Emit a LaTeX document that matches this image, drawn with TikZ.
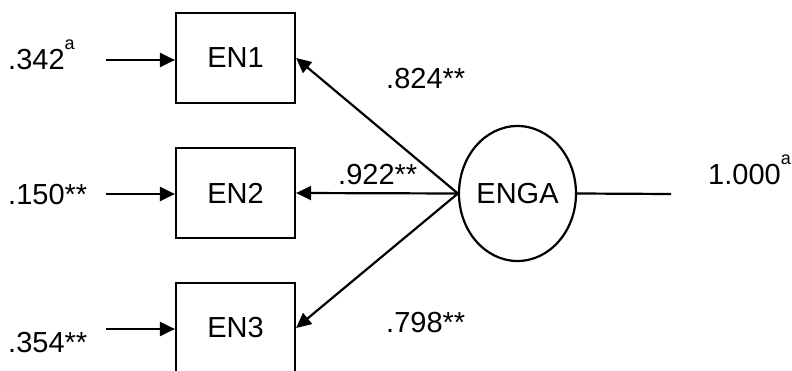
\documentclass[tikz,border=0pt]{standalone}
\usepackage{fontspec}
\setmainfont{Liberation Sans}
\usetikzlibrary{shapes.geometric,arrows.meta}
\begin{document}
\begin{tikzpicture}[x=1pt,y=-1pt,
  every node/.style={font=\fontsize{29}{31}\selectfont},
  ind/.style={draw,line width=2.2pt,minimum width=119pt,minimum height=90pt,inner sep=0pt},
  lat/.style={draw,line width=2.2pt,ellipse,minimum width=117pt,minimum height=135pt,inner sep=0pt},
  lbl/.style={anchor=base west,inner sep=0pt},
  path/.style={line width=2.2pt,-{Triangle[length=15pt,width=14pt]}}]
\useasboundingbox (0,0) rectangle (792,371);
\clip (0,0) rectangle (792,371);
% observed indicators
\node[ind] (en1) at (235.5,58) {EN1};
\node[ind] (en2) at (235.5,193) {EN2};
\node[ind] (en3) at (235.5,328) {EN3};
% latent factor
\node[lat] (enga) at (517.5,193.5) {ENGA};
% error terms
\coordinate (e1) at (106,60);
\coordinate (e2) at (106,194);
\coordinate (e3) at (106,329);
\draw[path] (e1) -- (e1 -| en1.west);
\draw[path] (e2) -- (e2 -| en2.west);
\draw[path] (e3) -- (e3 -| en3.west);
% loadings
\draw[path] (enga.west) -- (en1.east);
\draw[path] (enga.west) -- (en2.east);
\draw[path] (enga.west) -- (en3.east);
\coordinate (r) at (671,194);
\draw[line width=2.2pt] (enga.east) -- (r);
% labels
\newcommand{\supa}{\raisebox{20pt}{\fontsize{18}{18}\selectfont a}}
\node[lbl] (l1) at (8,70) {.342\supa};
\node[lbl] (l2) at (8,205) {.150**};
\node[lbl] (l3) at (8,352) {.354**};
\node[lbl] (k1) at (386,89) {.824**};
\node[lbl] (k2) at (338,185) {.922**};
\node[lbl] (k3) at (386,332) {.798**};
\node[lbl] (v) at (708,185) {1.000\supa};
\end{tikzpicture}
\end{document}
